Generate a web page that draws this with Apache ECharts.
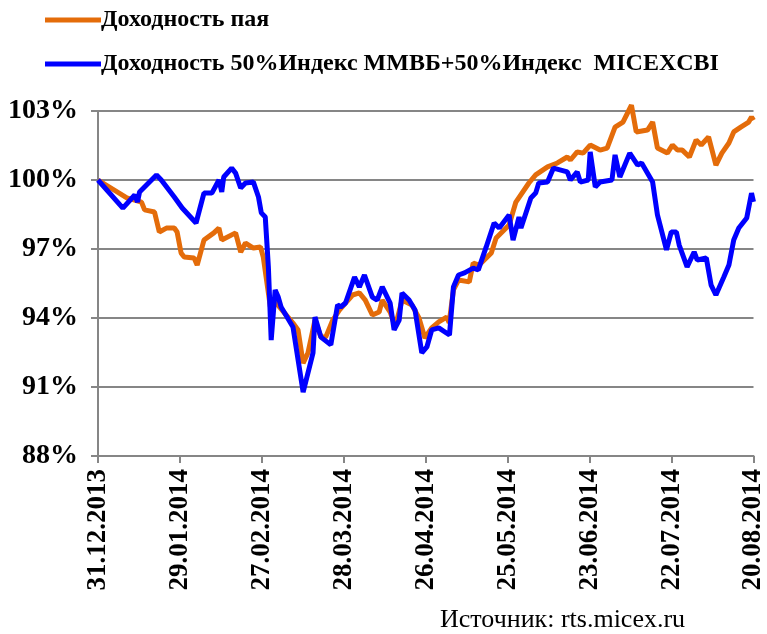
<!DOCTYPE html>
<html><head><meta charset="utf-8">
<script src="https://cdn.jsdelivr.net/npm/echarts@6/dist/echarts.min.js"></script>
<style>html,body{margin:0;padding:0;background:#fff}#c{width:767px;height:634px}</style>
</head><body><div id="c"></div>
<script>
// x-axis tick labels (every 29 days from 31.12.2013)
const tickLabels = ['31.12.2013','29.01.2014','27.02.2014','28.03.2014','26.04.2014','25.05.2014','23.06.2014','22.07.2014','20.08.2014'];
const seriesNames = ['Доходность пая','Доходность 50%Индекс ММВБ+50%Индекс  MICEXCBI'];
// day offset from 31.12.2013
const fundDays = [0,10.2,15.4,16.5,20.0,21.7,24.2,27.0,28.0,29.4,30.5,34.0,35.1,37.5,41.0,42.8,43.8,48.7,50.5,52.2,55.0,57.5,58.5,61.0,63.1,69.0,70.8,72.6,74.3,76.8,78.9,80.6,83.1,85.5,87.6,90.1,92.5,94.6,97.1,99.5,100.6,103.4,105.2,107.6,111.1,113.6,115.7,118.1,120.6,123.4,124.3,125.8,127.6,131.4,132.8,134.9,139.2,140.9,145.5,147.9,152.5,154.9,159.1,162.6,166.1,167.2,169.6,171.7,174.2,177.7,180.2,183.0,185.8,188.8,190.5,194.5,196.3,198.0,201.5,203.3,205.1,206.8,209.3,211.7,213.5,216.1,218.7,220.8,223.3,225.0,227.5,230.3,231.3,232];
const fundValues = [100,99.22,99.04,98.70,98.61,97.74,97.91,97.91,97.74,96.83,96.65,96.61,96.30,97.39,97.70,97.91,97.39,97.70,96.87,97.26,97.04,97.09,96.65,94.48,94.65,93.78,93.48,92.04,92.48,93.91,93.17,93.17,93.91,94.35,94.65,95.0,95.09,94.78,94.13,94.26,94.78,94.26,93.61,94.78,94.57,94.0,93.13,93.57,93.83,94.04,93.8,95.22,95.65,95.57,96.39,96.30,96.83,97.48,98.04,99.04,99.87,100.22,100.57,100.74,101.0,100.87,101.22,101.17,101.52,101.30,101.39,102.30,102.52,103.25,102.09,102.17,102.52,101.39,101.17,101.52,101.30,101.30,101.0,101.74,101.52,101.87,100.65,101.17,101.61,102.09,102.30,102.52,102.74,102.6];
const indexDays = [0,8.8,13.0,14.0,14.7,20.7,22.4,27.0,29.8,34.7,37.5,40.3,42.8,43.8,44.5,47.3,48.7,50.5,52.2,55.0,56.8,57.8,59.2,60.3,61.3,62.7,63.8,64.8,69.0,70.1,72.6,76.1,76.8,78.9,82.4,84.8,85.9,87.6,90.8,92.5,94.3,97.1,98.8,100.6,103.4,104.8,106.6,107.6,110.1,112.2,114.6,116.4,118.1,120.6,124.4,125.8,127.6,129.7,132.8,134.6,137.4,140.2,142.0,145.5,146.9,149.0,149.7,153.2,154.9,156.0,159.1,161.2,166.1,167.2,169.6,170.7,173.5,174.2,176.0,177.7,181.9,183.0,184.7,188.2,191.0,192.4,196.3,198.0,201.2,202.9,204.7,205.7,208.5,211.0,212.1,215.3,217.0,218.7,221.5,223.3,225.0,226.8,229.6,231.3,232];
const indexValues = [100,98.78,99.35,99.04,99.48,100.22,100.0,99.26,98.78,98.13,99.43,99.43,100.0,99.48,100.13,100.52,100.30,99.65,99.87,99.91,99.26,98.57,98.39,96.22,93.04,95.22,94.91,94.48,93.61,92.74,90.78,92.48,94.04,93.17,92.83,94.57,94.48,94.65,95.78,95.35,95.87,94.91,94.78,95.35,94.65,93.48,93.91,95.09,94.78,94.35,92.48,92.74,93.48,93.57,93.26,95.35,95.87,95.96,96.17,96.09,97.09,98.13,97.91,98.48,97.39,98.39,97.91,99.22,99.43,99.87,99.91,100.52,100.35,100.0,100.35,99.91,100.0,101.22,99.70,99.91,100.0,101.09,100.13,101.17,100.65,100.74,99.91,98.48,96.96,97.74,97.74,97.17,96.22,96.87,96.52,96.61,95.43,95.0,95.78,96.30,97.39,97.91,98.35,99.43,99.05];
const sourceText = 'Источник: rts.micex.ru';

const zip = (a, b) => a.map((d, i) => [d, b[i]]);
const serif = '"Liberation Serif","Times New Roman",serif';
const chart = echarts.init(document.getElementById('c'));
chart.setOption({
  animation: false,
  grid: {left: 98, right: 7, top: 111, bottom: 178, containLabel: false},
  legend: {
    orient: 'vertical', left: 40, top: 3, itemGap: 20,
    itemWidth: 56, itemHeight: 5, icon: 'rect',
    textStyle: {fontFamily: serif, fontWeight: 'bold', fontSize: 24, color: '#000', padding: [0,0,0,-5]},
    data: [
      {name: seriesNames[0], itemStyle: {color: '#E46C0A'}},
      {name: seriesNames[1], itemStyle: {color: '#0000FF'}}
    ]
  },
  xAxis: {
    type: 'value', min: 0, max: 232, interval: 29,
    axisLine: {show: true, lineStyle: {color: '#868686', width: 2}},
    axisTick: {show: true, length: 7, lineStyle: {color: '#868686', width: 2}},
    splitLine: {show: false},
    axisLabel: {
      rotate: 90, margin: 13, fontFamily: serif, fontWeight: 'bold', fontSize: 27, color: '#000',
      formatter: v => tickLabels[Math.round(v / 29)] || ''
    }
  },
  yAxis: {
    type: 'value', min: 88, max: 103, interval: 3,
    axisLine: {show: true, lineStyle: {color: '#868686', width: 2}},
    axisTick: {show: true, length: 7, lineStyle: {color: '#868686', width: 2}},
    splitLine: {show: true, lineStyle: {color: '#868686', width: 2}},
    axisLabel: {margin: 20, fontFamily: serif, fontWeight: 'bold', fontSize: 28, color: '#000', formatter: v => v + '%'}
  },
  series: [
    {name: seriesNames[0], type: 'line', data: zip(fundDays, fundValues), showSymbol: false, clip: false,
     lineStyle: {color: '#E46C0A', width: 5}, itemStyle: {color: '#E46C0A'}, z: 2},
    {name: seriesNames[1], type: 'line', data: zip(indexDays, indexValues), showSymbol: false, clip: false,
     lineStyle: {color: '#0000FF', width: 5}, itemStyle: {color: '#0000FF'}, z: 3}
  ],
  graphic: [{type: 'text', left: 440, top: 607, style: {text: sourceText, font: '26px ' + serif, fill: '#000'}}]
});
</script></body></html>
